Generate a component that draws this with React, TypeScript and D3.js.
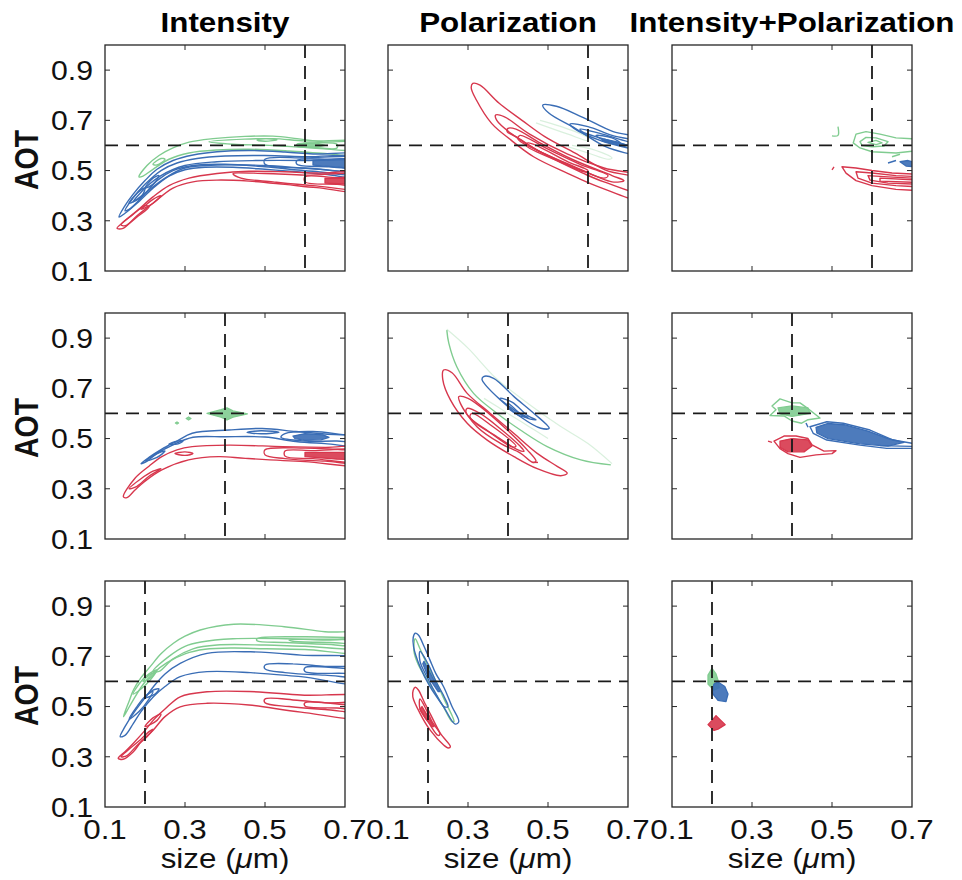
import React from 'react';
import * as d3 from 'd3';

type Pt = [number, number];
type Ring = Pt[];

// ---------- labels / axes ----------
const columnTitles = ['Intensity', 'Polarization', 'Intensity+Polarization'];
const xTicks = [0.1, 0.3, 0.5, 0.7];
const yTicks = [0.1, 0.3, 0.5, 0.7, 0.9];
const xDomain: [number, number] = [0.1, 0.7];
const yDomain: [number, number] = [0.1, 1.0];
const truthSizeByRow = [0.6, 0.4, 0.2];
const truthAOT = 0.6;

const COLORS: Record<string, string> = { green: '#80cc90', blue: '#3a6db5', red: '#d7374d' };

// ---------- Row 1, Intensity ----------
const r1c1Green: Ring[] = [
  [[0.185,0.475],[0.205,0.52],[0.235,0.56],[0.27,0.59],[0.31,0.613],[0.37,0.627],[0.45,0.636],[0.52,0.637],[0.58,0.627],[0.64,0.615],[0.76,0.605],[0.76,0.56],[0.65,0.568],[0.56,0.578],[0.46,0.585],[0.38,0.582],[0.31,0.57],[0.26,0.545],[0.22,0.505],[0.195,0.478]],
  [[0.36,0.615],[0.45,0.625],[0.52,0.627],[0.6,0.618],[0.76,0.61],[0.76,0.585],[0.62,0.59],[0.52,0.6],[0.42,0.605]],
  [[0.48,0.622],[0.5,0.627],[0.53,0.623],[0.5,0.617]],
  [[0.58,0.605],[0.62,0.61],[0.68,0.605],[0.68,0.59],[0.62,0.592],[0.58,0.598]],
  [[0.22,0.525],[0.24,0.548],[0.25,0.545],[0.23,0.522]],
];
const r1c1GreenFill: Ring[] = [
  [[0.58,0.6],[0.6,0.61],[0.63,0.609],[0.65,0.6],[0.63,0.593],[0.6,0.594]],
];
const r1c1Blue: Ring[] = [
  [[0.135,0.315],[0.15,0.36],[0.17,0.405],[0.2,0.46],[0.23,0.505],[0.27,0.54],[0.32,0.562],[0.38,0.575],[0.46,0.58],[0.55,0.574],[0.62,0.566],[0.76,0.556],[0.76,0.475],[0.65,0.485],[0.58,0.495],[0.5,0.505],[0.42,0.513],[0.35,0.513],[0.3,0.503],[0.26,0.478],[0.22,0.43],[0.18,0.37],[0.15,0.33]],
  [[0.15,0.34],[0.17,0.39],[0.2,0.445],[0.24,0.5],[0.28,0.53],[0.33,0.548],[0.4,0.558],[0.5,0.56],[0.6,0.555],[0.76,0.548],[0.76,0.49],[0.62,0.497],[0.5,0.515],[0.4,0.525],[0.32,0.52],[0.27,0.5],[0.23,0.46],[0.19,0.39],[0.16,0.345]],
  [[0.17,0.375],[0.2,0.43],[0.24,0.48],[0.3,0.52],[0.38,0.535],[0.48,0.54],[0.6,0.54],[0.76,0.535],[0.76,0.5],[0.62,0.507],[0.5,0.52],[0.38,0.522],[0.3,0.51],[0.25,0.47],[0.2,0.41]],
  [[0.5,0.545],[0.6,0.55],[0.76,0.545],[0.76,0.505],[0.6,0.51],[0.5,0.525]],
  [[0.58,0.54],[0.66,0.545],[0.76,0.54],[0.76,0.512],[0.66,0.515],[0.58,0.525]],
  [[0.16,0.37],[0.18,0.41],[0.2,0.43],[0.19,0.395]],
  [[0.2,0.43],[0.22,0.47],[0.235,0.48],[0.22,0.445]],
];
const r1c1BlueFill: Ring[] = [
  [[0.62,0.54],[0.7,0.544],[0.76,0.542],[0.76,0.508],[0.7,0.512],[0.62,0.522]],
];
const r1c1Red: Ring[] = [
  [[0.13,0.27],[0.15,0.3],[0.18,0.34],[0.22,0.395],[0.26,0.44],[0.31,0.47],[0.38,0.488],[0.46,0.497],[0.55,0.495],[0.63,0.49],[0.76,0.485],[0.76,0.42],[0.63,0.432],[0.55,0.445],[0.46,0.458],[0.38,0.462],[0.32,0.455],[0.27,0.43],[0.22,0.37],[0.18,0.32],[0.145,0.27]],
  [[0.42,0.488],[0.5,0.488],[0.6,0.482],[0.76,0.478],[0.76,0.43],[0.62,0.44],[0.52,0.455],[0.44,0.47]],
  [[0.6,0.475],[0.68,0.472],[0.76,0.47],[0.76,0.44],[0.68,0.445],[0.6,0.455]],
  [[0.14,0.285],[0.17,0.325],[0.2,0.36],[0.21,0.355],[0.18,0.315],[0.15,0.28]],
  [[0.19,0.345],[0.22,0.385],[0.24,0.4],[0.22,0.37]],
];
const r1c1RedFill: Ring[] = [
  [[0.65,0.47],[0.76,0.468],[0.76,0.442],[0.65,0.45]],
];

// ---------- Row 1, Polarization ----------
const r1c2GreenFaint: Ring[] = [
  [[0.48,0.7],[0.56,0.66],[0.6,0.63],[0.6,0.62],[0.55,0.645],[0.47,0.69]],
  [[0.56,0.6],[0.62,0.58],[0.66,0.55],[0.65,0.545],[0.6,0.57],[0.55,0.595]],
];
const r1c2Blue: Ring[] = [
  [[0.487,0.761],[0.521,0.756],[0.587,0.712],[0.663,0.655],[0.76,0.615],[0.76,0.545],[0.704,0.566],[0.644,0.595],[0.568,0.668],[0.502,0.729]],
  [[0.555,0.685],[0.6,0.675],[0.66,0.64],[0.76,0.6],[0.76,0.575],[0.7,0.59],[0.63,0.62],[0.565,0.668]],
  [[0.58,0.665],[0.63,0.648],[0.7,0.615],[0.76,0.595],[0.76,0.58],[0.7,0.6],[0.63,0.63],[0.585,0.655]],
  [[0.62,0.64],[0.66,0.63],[0.68,0.61],[0.64,0.62]],
];
const r1c2BlueFill: Ring[] = [
  [[0.64,0.625],[0.67,0.615],[0.7,0.6],[0.69,0.596],[0.66,0.607],[0.635,0.618]],
];
const r1c2Red: Ring[] = [
  [[0.312,0.847],[0.33,0.84],[0.378,0.768],[0.435,0.7],[0.492,0.635],[0.568,0.569],[0.644,0.502],[0.76,0.45],[0.76,0.375],[0.625,0.436],[0.549,0.489],[0.464,0.555],[0.407,0.622],[0.359,0.688],[0.321,0.781],[0.308,0.83]],
  [[0.369,0.721],[0.39,0.715],[0.454,0.645],[0.549,0.565],[0.64,0.51],[0.76,0.465],[0.76,0.405],[0.64,0.455],[0.587,0.49],[0.483,0.572],[0.41,0.645],[0.372,0.7]],
  [[0.4,0.668],[0.42,0.665],[0.48,0.61],[0.56,0.545],[0.66,0.48],[0.69,0.46],[0.66,0.455],[0.56,0.52],[0.48,0.575],[0.42,0.635],[0.398,0.655]],
  [[0.43,0.64],[0.5,0.585],[0.58,0.525],[0.65,0.48],[0.64,0.47],[0.57,0.51],[0.49,0.568],[0.425,0.625]],
  [[0.45,0.61],[0.55,0.535],[0.6,0.5],[0.59,0.495],[0.54,0.528],[0.445,0.6]],
];

// ---------- Row 1, Intensity+Polarization ----------
const r1c3GreenOpen: Ring[] = [
  [[0.515,0.675],[0.515,0.64],[0.5,0.638]],
  [[0.65,0.555],[0.67,0.565]],
];
const r1c3Green: Ring[] = [
  [[0.553,0.61],[0.56,0.645],[0.585,0.655],[0.62,0.645],[0.66,0.63],[0.72,0.625],[0.72,0.58],[0.66,0.57],[0.6,0.575],[0.57,0.59]],
  [[0.57,0.615],[0.585,0.632],[0.61,0.63],[0.64,0.615],[0.63,0.598],[0.6,0.595],[0.575,0.6]],
  [[0.59,0.612],[0.61,0.62],[0.625,0.61],[0.61,0.603]],
];
const r1c3BlueFill: Ring[] = [
  [[0.67,0.535],[0.69,0.54],[0.71,0.53],[0.71,0.515],[0.685,0.518]],
];
const r1c3BlueOpen: Ring[] = [
  [[0.64,0.53],[0.66,0.54]],
];
const r1c3Red: Ring[] = [
  [[0.525,0.515],[0.56,0.51],[0.6,0.5],[0.65,0.49],[0.72,0.485],[0.72,0.42],[0.66,0.425],[0.6,0.44],[0.56,0.46],[0.535,0.49]],
  [[0.56,0.495],[0.6,0.49],[0.66,0.48],[0.72,0.475],[0.72,0.435],[0.66,0.44],[0.6,0.45],[0.565,0.47]],
  [[0.59,0.48],[0.64,0.475],[0.72,0.468],[0.72,0.445],[0.64,0.45],[0.595,0.462]],
  [[0.62,0.47],[0.72,0.462],[0.72,0.452],[0.62,0.458]],
];
const r1c3RedOpen: Ring[] = [
  [[0.5,0.503],[0.505,0.515]],
];

// ---------- Row 2, Intensity ----------
const r2c1GreenFill: Ring[] = [
  [[0.355,0.6],[0.39,0.615],[0.405,0.622],[0.42,0.61],[0.456,0.598],[0.42,0.585],[0.405,0.574],[0.39,0.585]],
  [[0.303,0.58],[0.309,0.586],[0.315,0.58],[0.309,0.574]],
  [[0.276,0.562],[0.28,0.566],[0.284,0.562],[0.28,0.558]],
];
const r2c1Blue: Ring[] = [
  [[0.19,0.4],[0.21,0.425],[0.242,0.458],[0.28,0.49],[0.318,0.521],[0.41,0.534],[0.493,0.54],[0.577,0.528],[0.65,0.518],[0.76,0.5],[0.76,0.47],[0.65,0.48],[0.577,0.488],[0.5,0.506],[0.4,0.507],[0.32,0.505],[0.27,0.475],[0.23,0.44],[0.2,0.405]],
  [[0.455,0.525],[0.49,0.531],[0.535,0.525],[0.49,0.519]],
  [[0.55,0.52],[0.62,0.528],[0.7,0.515],[0.76,0.505],[0.76,0.485],[0.68,0.49],[0.6,0.49],[0.54,0.505]],
  [[0.2,0.41],[0.23,0.44],[0.25,0.45],[0.23,0.425]],
  [[0.26,0.478],[0.28,0.49],[0.295,0.49],[0.28,0.478]],
];
const r2c1BlueFill: Ring[] = [
  [[0.57,0.51],[0.6,0.52],[0.645,0.515],[0.66,0.505],[0.64,0.495],[0.6,0.493],[0.575,0.5]],
];
const r2c1Red: Ring[] = [
  [[0.146,0.268],[0.175,0.342],[0.21,0.39],[0.242,0.428],[0.28,0.455],[0.318,0.468],[0.41,0.474],[0.544,0.468],[0.65,0.465],[0.76,0.462],[0.76,0.4],[0.6,0.408],[0.451,0.421],[0.384,0.428],[0.309,0.415],[0.242,0.375],[0.2,0.33],[0.175,0.295],[0.155,0.265]],
  [[0.5,0.455],[0.6,0.462],[0.7,0.455],[0.76,0.455],[0.76,0.405],[0.65,0.41],[0.55,0.42],[0.5,0.435]],
  [[0.55,0.45],[0.62,0.452],[0.76,0.448],[0.76,0.41],[0.62,0.42],[0.55,0.43]],
  [[0.275,0.44],[0.3,0.447],[0.32,0.44],[0.3,0.433]],
  [[0.16,0.3],[0.19,0.34],[0.22,0.37],[0.24,0.38],[0.21,0.35],[0.18,0.31]],
];
const r2c1RedFill: Ring[] = [
  [[0.6,0.445],[0.7,0.445],[0.76,0.44],[0.76,0.415],[0.68,0.418],[0.6,0.428]],
];

// ---------- Row 2, Polarization ----------
const r2c2GreenOpen: Ring[] = [
  [[0.247,0.932],[0.252,0.88],[0.272,0.786],[0.314,0.68],[0.373,0.6],[0.431,0.534],[0.498,0.468],[0.582,0.415],[0.657,0.395]],
];
const r2c2GreenFaint: Ring[] = [
  [[0.247,0.935],[0.3,0.86],[0.37,0.74],[0.45,0.64],[0.53,0.55],[0.6,0.48],[0.66,0.4]],
  [[0.34,0.66],[0.4,0.6],[0.45,0.55],[0.5,0.5]],
];
const r2c2Blue: Ring[] = [
  [[0.339,0.747],[0.364,0.74],[0.415,0.667],[0.465,0.6],[0.503,0.541],[0.482,0.541],[0.431,0.587],[0.381,0.654],[0.344,0.713],[0.335,0.735]],
  [[0.38,0.66],[0.41,0.645],[0.45,0.59],[0.47,0.575],[0.45,0.58],[0.41,0.62]],
  [[0.4,0.64],[0.43,0.6],[0.45,0.585],[0.43,0.59],[0.4,0.625]],
];
const r2c2Red: Ring[] = [
  [[0.239,0.773],[0.26,0.762],[0.298,0.68],[0.356,0.6],[0.415,0.52],[0.473,0.441],[0.524,0.388],[0.548,0.362],[0.532,0.352],[0.473,0.38],[0.415,0.428],[0.348,0.494],[0.298,0.561],[0.256,0.654],[0.237,0.735]],
  [[0.277,0.667],[0.3,0.66],[0.331,0.627],[0.398,0.534],[0.448,0.455],[0.47,0.41],[0.462,0.405],[0.431,0.442],[0.381,0.481],[0.323,0.546],[0.281,0.64]],
  [[0.298,0.62],[0.33,0.6],[0.38,0.54],[0.43,0.47],[0.44,0.45],[0.425,0.455],[0.37,0.51],[0.32,0.56],[0.295,0.605]],
  [[0.31,0.6],[0.36,0.55],[0.42,0.47],[0.41,0.467],[0.35,0.53],[0.305,0.585]],
];
const r2c2RedOpen: Ring[] = [
  [[0.46,0.405],[0.475,0.405]],
];

// ---------- Row 2, Intensity+Polarization ----------
const r2c3Green: Ring[] = [
  [[0.37,0.658],[0.4,0.642],[0.42,0.642],[0.435,0.625],[0.47,0.582],[0.44,0.575],[0.424,0.561],[0.4,0.57],[0.38,0.59],[0.345,0.592],[0.36,0.615],[0.35,0.63]],
];
const r2c3GreenFill: Ring[] = [
  [[0.365,0.622],[0.4,0.63],[0.44,0.622],[0.445,0.6],[0.4,0.588],[0.37,0.598]],
];
const r2c3Blue: Ring[] = [
  [[0.445,0.547],[0.487,0.567],[0.528,0.561],[0.595,0.534],[0.653,0.494],[0.7,0.481],[0.72,0.48],[0.72,0.461],[0.637,0.461],[0.57,0.474],[0.487,0.494],[0.453,0.521]],
];
const r2c3BlueFill: Ring[] = [
  [[0.46,0.545],[0.49,0.56],[0.53,0.555],[0.59,0.53],[0.64,0.5],[0.68,0.485],[0.64,0.47],[0.57,0.479],[0.49,0.5],[0.462,0.522]],
];
const r2c3BlueOpen: Ring[] = [
  [[0.62,0.472],[0.72,0.468]],
  [[0.435,0.562],[0.44,0.545]],
];
const r2c3Red: Ring[] = [
  [[0.355,0.49],[0.38,0.51],[0.41,0.51],[0.44,0.5],[0.45,0.475],[0.48,0.45],[0.51,0.452],[0.5,0.44],[0.46,0.435],[0.42,0.425],[0.39,0.44],[0.37,0.46],[0.36,0.48]],
];
const r2c3RedFill: Ring[] = [
  [[0.37,0.49],[0.4,0.5],[0.44,0.495],[0.45,0.47],[0.43,0.447],[0.39,0.447],[0.37,0.465]],
];
const r2c3RedOpen: Ring[] = [
  [[0.34,0.49],[0.35,0.485]],
];

// ---------- Row 3, Intensity ----------
const r3c1Green: Ring[] = [
  [[0.146,0.46],[0.16,0.52],[0.171,0.566],[0.19,0.615],[0.213,0.659],[0.24,0.71],[0.271,0.752],[0.3,0.78],[0.338,0.805],[0.422,0.828],[0.548,0.818],[0.65,0.798],[0.76,0.785],[0.76,0.72],[0.6,0.727],[0.5,0.73],[0.42,0.733],[0.35,0.728],[0.3,0.71],[0.255,0.675],[0.22,0.632],[0.196,0.59],[0.17,0.525],[0.154,0.48]],
  [[0.22,0.64],[0.26,0.7],[0.3,0.74],[0.34,0.757],[0.42,0.77],[0.55,0.77],[0.65,0.765],[0.76,0.76],[0.76,0.735],[0.6,0.74],[0.5,0.745],[0.38,0.745],[0.32,0.73],[0.27,0.69],[0.235,0.64]],
  [[0.48,0.77],[0.58,0.778],[0.7,0.775],[0.76,0.77],[0.76,0.745],[0.65,0.748],[0.55,0.755],[0.48,0.762]],
  [[0.56,0.765],[0.66,0.768],[0.76,0.764],[0.76,0.752],[0.66,0.755],[0.57,0.76]],
  [[0.17,0.55],[0.19,0.6],[0.21,0.63],[0.23,0.645],[0.215,0.61],[0.19,0.57]],
  [[0.195,0.6],[0.215,0.63],[0.225,0.635],[0.21,0.61]],
];
const r3c1Blue: Ring[] = [
  [[0.138,0.38],[0.15,0.42],[0.171,0.473],[0.2,0.535],[0.221,0.579],[0.25,0.63],[0.288,0.672],[0.355,0.712],[0.464,0.718],[0.59,0.705],[0.76,0.68],[0.76,0.595],[0.59,0.619],[0.464,0.635],[0.355,0.639],[0.288,0.619],[0.25,0.58],[0.221,0.539],[0.19,0.48],[0.171,0.433],[0.15,0.385]],
  [[0.5,0.665],[0.57,0.67],[0.65,0.66],[0.76,0.65],[0.76,0.62],[0.65,0.625],[0.55,0.635],[0.5,0.65]],
  [[0.6,0.655],[0.7,0.652],[0.76,0.648],[0.76,0.628],[0.7,0.632],[0.6,0.64]],
  [[0.16,0.45],[0.18,0.5],[0.2,0.54],[0.22,0.56],[0.21,0.53],[0.185,0.48]],
  [[0.2,0.535],[0.22,0.565],[0.235,0.57],[0.225,0.55]],
];
const r3c1Red: Ring[] = [
  [[0.133,0.294],[0.15,0.32],[0.171,0.354],[0.2,0.405],[0.221,0.446],[0.25,0.49],[0.288,0.539],[0.355,0.559],[0.46,0.56],[0.59,0.546],[0.76,0.53],[0.76,0.46],[0.59,0.478],[0.46,0.506],[0.355,0.513],[0.288,0.499],[0.25,0.46],[0.221,0.407],[0.19,0.36],[0.171,0.32],[0.145,0.29]],
  [[0.5,0.53],[0.58,0.525],[0.65,0.515],[0.76,0.51],[0.76,0.48],[0.65,0.488],[0.56,0.5],[0.5,0.515]],
  [[0.6,0.515],[0.7,0.508],[0.76,0.505],[0.76,0.49],[0.68,0.494],[0.6,0.502]],
  [[0.14,0.3],[0.16,0.33],[0.19,0.37],[0.21,0.4],[0.22,0.41],[0.205,0.38],[0.18,0.345],[0.155,0.305]],
  [[0.2,0.42],[0.22,0.455],[0.24,0.47],[0.23,0.445]],
];

// ---------- Row 3, Polarization ----------
const r3c2Green: Ring[] = [
  [[0.168,0.77],[0.18,0.73],[0.2,0.66],[0.22,0.6],[0.24,0.53],[0.265,0.44],[0.26,0.44],[0.235,0.51],[0.2,0.6],[0.175,0.67],[0.165,0.72]],
];
const r3c2Blue: Ring[] = [
  [[0.168,0.792],[0.176,0.785],[0.19,0.74],[0.205,0.685],[0.22,0.63],[0.239,0.579],[0.26,0.5],[0.277,0.44],[0.268,0.43],[0.239,0.499],[0.205,0.579],[0.18,0.659],[0.164,0.738],[0.163,0.775]],
  [[0.18,0.72],[0.2,0.67],[0.22,0.6],[0.24,0.54],[0.25,0.5],[0.24,0.5],[0.22,0.55],[0.2,0.61],[0.18,0.68]],
];
const r3c2BlueFill: Ring[] = [
  [[0.19,0.68],[0.21,0.62],[0.23,0.56],[0.225,0.56],[0.2,0.62],[0.187,0.67]],
];
const r3c2Red: Ring[] = [
  [[0.168,0.577],[0.176,0.566],[0.19,0.52],[0.205,0.473],[0.231,0.393],[0.256,0.34],[0.25,0.335],[0.239,0.347],[0.205,0.407],[0.18,0.473],[0.162,0.539],[0.163,0.565]],
  [[0.18,0.53],[0.195,0.49],[0.21,0.44],[0.23,0.39],[0.225,0.385],[0.2,0.44],[0.18,0.49]],
];
const r3c2RedFill: Ring[] = [
  [[0.185,0.5],[0.2,0.46],[0.215,0.42],[0.21,0.42],[0.195,0.45],[0.18,0.49]],
];

// ---------- Row 3, Intensity+Polarization ----------
const r3c3GreenFill: Ring[] = [
  [[0.2,0.652],[0.21,0.63],[0.216,0.6],[0.218,0.575],[0.205,0.565],[0.19,0.59],[0.19,0.625]],
];
const r3c3BlueFill: Ring[] = [
  [[0.205,0.59],[0.215,0.598],[0.232,0.58],[0.24,0.55],[0.235,0.52],[0.215,0.525],[0.2,0.555]],
];
const r3c3RedFill: Ring[] = [
  [[0.21,0.464],[0.222,0.445],[0.233,0.428],[0.215,0.41],[0.205,0.405],[0.19,0.428],[0.2,0.445]],
];

type Kind = 'smooth' | 'jagged' | 'open' | 'fill' | 'faint';
interface Layer { color: string; kind: Kind; rings: Ring[] }

const panels: Layer[][][] = [
  [
    [
      { color: 'green', kind: 'smooth', rings: r1c1Green },
      { color: 'green', kind: 'fill', rings: r1c1GreenFill },
      { color: 'blue', kind: 'smooth', rings: r1c1Blue },
      { color: 'blue', kind: 'fill', rings: r1c1BlueFill },
      { color: 'red', kind: 'smooth', rings: r1c1Red },
      { color: 'red', kind: 'fill', rings: r1c1RedFill },
    ],
    [
      { color: 'green', kind: 'faint', rings: r1c2GreenFaint },
      { color: 'blue', kind: 'smooth', rings: r1c2Blue },
      { color: 'blue', kind: 'fill', rings: r1c2BlueFill },
      { color: 'red', kind: 'smooth', rings: r1c2Red },
    ],
    [
      { color: 'green', kind: 'open', rings: r1c3GreenOpen },
      { color: 'green', kind: 'jagged', rings: r1c3Green },
      { color: 'blue', kind: 'fill', rings: r1c3BlueFill },
      { color: 'blue', kind: 'open', rings: r1c3BlueOpen },
      { color: 'red', kind: 'jagged', rings: r1c3Red },
      { color: 'red', kind: 'open', rings: r1c3RedOpen },
    ],
  ],
  [
    [
      { color: 'green', kind: 'fill', rings: r2c1GreenFill },
      { color: 'blue', kind: 'smooth', rings: r2c1Blue },
      { color: 'blue', kind: 'fill', rings: r2c1BlueFill },
      { color: 'red', kind: 'smooth', rings: r2c1Red },
      { color: 'red', kind: 'fill', rings: r2c1RedFill },
    ],
    [
      { color: 'green', kind: 'faint', rings: r2c2GreenFaint },
      { color: 'green', kind: 'open', rings: r2c2GreenOpen },
      { color: 'blue', kind: 'smooth', rings: r2c2Blue },
      { color: 'red', kind: 'smooth', rings: r2c2Red },
      { color: 'red', kind: 'open', rings: r2c2RedOpen },
    ],
    [
      { color: 'green', kind: 'jagged', rings: r2c3Green },
      { color: 'green', kind: 'fill', rings: r2c3GreenFill },
      { color: 'blue', kind: 'jagged', rings: r2c3Blue },
      { color: 'blue', kind: 'fill', rings: r2c3BlueFill },
      { color: 'blue', kind: 'open', rings: r2c3BlueOpen },
      { color: 'red', kind: 'jagged', rings: r2c3Red },
      { color: 'red', kind: 'fill', rings: r2c3RedFill },
      { color: 'red', kind: 'open', rings: r2c3RedOpen },
    ],
  ],
  [
    [
      { color: 'green', kind: 'smooth', rings: r3c1Green },
      { color: 'blue', kind: 'smooth', rings: r3c1Blue },
      { color: 'red', kind: 'smooth', rings: r3c1Red },
    ],
    [
      { color: 'green', kind: 'smooth', rings: r3c2Green },
      { color: 'blue', kind: 'smooth', rings: r3c2Blue },
      { color: 'blue', kind: 'fill', rings: r3c2BlueFill },
      { color: 'red', kind: 'smooth', rings: r3c2Red },
      { color: 'red', kind: 'fill', rings: r3c2RedFill },
    ],
    [
      { color: 'green', kind: 'fill', rings: r3c3GreenFill },
      { color: 'blue', kind: 'fill', rings: r3c3BlueFill },
      { color: 'red', kind: 'fill', rings: r3c3RedFill },
    ],
  ],
];

// ---------- layout ----------
const W = 240;
const H = 226;
const panelLeft = [105, 388, 672];
const panelTop = [45, 313, 581];
const FONT = '"Liberation Sans", Arial, Helvetica, sans-serif';
const SX = 1.12;
const AXIS = '#262626';

const xs = d3.scaleLinear().domain(xDomain).range([0, W]);
const ys = d3.scaleLinear().domain(yDomain).range([H, 0]);

const smoothClosed = d3.line<Pt>().x(d => xs(d[0])).y(d => ys(d[1])).curve(d3.curveCatmullRomClosed.alpha(0.5));
const linearClosed = d3.line<Pt>().x(d => xs(d[0])).y(d => ys(d[1])).curve(d3.curveLinearClosed);
const openCurve = d3.line<Pt>().x(d => xs(d[0])).y(d => ys(d[1])).curve(d3.curveCatmullRom.alpha(0.5));

function LayerPaths({ layer }: { layer: Layer }) {
  const c = COLORS[layer.color];
  return (
    <g>
      {layer.rings.map((r, i) => {
        if (layer.kind === 'fill') {
          return <path key={i} d={linearClosed(r) || ''} fill={c} fillOpacity={0.9} stroke={c} strokeWidth={1.3} strokeLinejoin="round" />;
        }
        if (layer.kind === 'open') {
          return <path key={i} d={openCurve(r) || ''} fill="none" stroke={c} strokeWidth={1.4} />;
        }
        if (layer.kind === 'faint') {
          return <path key={i} d={openCurve(r) || ''} fill="none" stroke={c} strokeWidth={1.2} opacity={0.3} />;
        }
        const gen = layer.kind === 'jagged' ? linearClosed : smoothClosed;
        return <path key={i} d={gen(r) || ''} fill="none" stroke={c} strokeWidth={1.4} strokeLinejoin="round" />;
      })}
    </g>
  );
}

function Panel({ row, col }: { row: number; col: number }) {
  const id = `clip-${row}-${col}`;
  const tx = truthSizeByRow[row];
  const innerX = xTicks.slice(1, -1);
  const innerY = yTicks.slice(1);
  return (
    <g transform={`translate(${panelLeft[col]},${panelTop[row]})`}>
      <defs>
        <clipPath id={id}>
          <rect x={0} y={0} width={W} height={H} />
        </clipPath>
      </defs>
      <g clipPath={`url(#${id})`}>
        {panels[row][col].map((layer, i) => (
          <LayerPaths key={i} layer={layer} />
        ))}
        <line x1={0} x2={W} y1={ys(truthAOT)} y2={ys(truthAOT)} stroke="#1a1a1a" strokeWidth={1.8} strokeDasharray="13 8" />
        <line x1={xs(tx)} x2={xs(tx)} y1={0} y2={H} stroke="#1a1a1a" strokeWidth={1.8} strokeDasharray="13 8" />
      </g>
      {innerX.map(t => (
        <g key={`xt${t}`}>
          <line x1={xs(t)} x2={xs(t)} y1={H} y2={H - 5} stroke={AXIS} strokeWidth={1} />
          <line x1={xs(t)} x2={xs(t)} y1={0} y2={5} stroke={AXIS} strokeWidth={1} />
        </g>
      ))}
      {innerY.map(t => (
        <g key={`yt${t}`}>
          <line x1={0} x2={5} y1={ys(t)} y2={ys(t)} stroke={AXIS} strokeWidth={1} />
          <line x1={W} x2={W - 5} y1={ys(t)} y2={ys(t)} stroke={AXIS} strokeWidth={1} />
        </g>
      ))}
      <rect x={0} y={0} width={W} height={H} fill="none" stroke={AXIS} strokeWidth={1.3} />
      {col === 0 &&
        yTicks.map(t => (
          <text key={`yl${t}`} transform={`translate(-12,${ys(t) + 9.8}) scale(${SX},1)`} textAnchor="end" fontSize={27} fontFamily={FONT} fill="#111">
            {t.toFixed(1)}
          </text>
        ))}
      {row === 2 &&
        xTicks.map(t => (
          <text key={`xl${t}`} transform={`translate(${xs(t)},${H + 32}) scale(${SX},1)`} textAnchor="middle" fontSize={28} fontFamily={FONT} fill="#111">
            {t.toFixed(1)}
          </text>
        ))}
      {row === 2 && (
        <text transform={`translate(${W / 2},${H + 61}) scale(${SX},1)`} textAnchor="middle" fontSize={28} fontFamily={FONT} fill="#111">
          size (<tspan fontStyle="italic">μ</tspan>m)
        </text>
      )}
      {col === 0 && (
        <text transform={`translate(${37.5 - panelLeft[0]},${H / 2 + 2}) scale(1.16,1) rotate(-90)`} textAnchor="middle" fontSize={28.5} fontWeight="bold" fontFamily={FONT} fill="#111">
          AOT
        </text>
      )}
      {row === 0 && (
        <text transform={`translate(${W / 2},${32 - panelTop[0]}) scale(${SX},1)`} textAnchor="middle" fontSize={28} fontWeight="bold" fontFamily={FONT} fill="#000">
          {columnTitles[col]}
        </text>
      )}
    </g>
  );
}

export default function App() {
  return (
    <svg width={962} height={880} style={{ position: 'absolute', left: 0, top: 0, background: '#fff' }}>
      <rect x={0} y={0} width={962} height={880} fill="#fff" />
      {[0, 1, 2].map(row =>
        [0, 1, 2].map(col => <Panel key={`${row}-${col}`} row={row} col={col} />)
      )}
    </svg>
  );
}
